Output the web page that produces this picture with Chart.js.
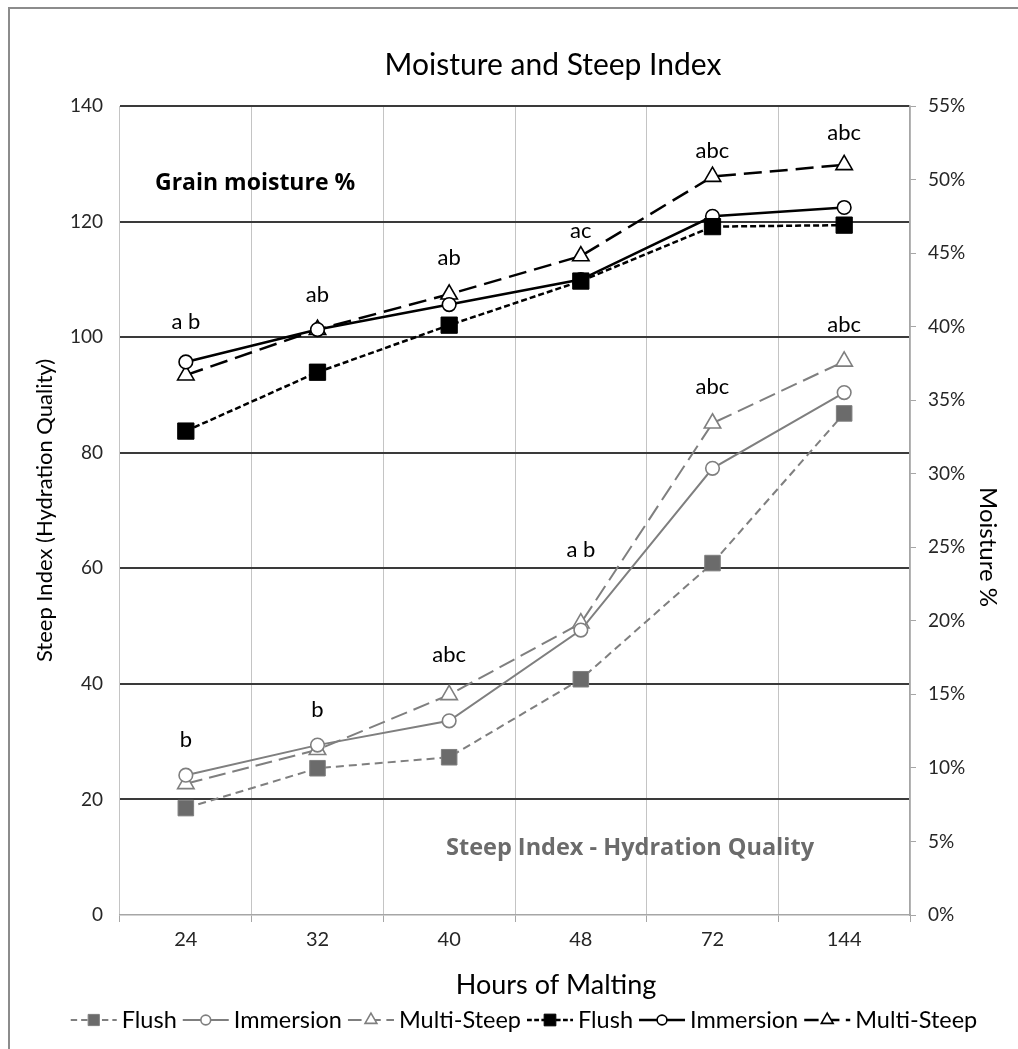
<!DOCTYPE html>
<html><head><meta charset="utf-8">
<script src="https://cdn.jsdelivr.net/npm/chart.js@4.4.0/dist/chart.umd.min.js"></script>
<style>html,body{margin:0;padding:0;background:#fff;}#wrap{width:1018px;height:1049px;}</style>
</head><body><div id="wrap"><canvas id="c" width="1018" height="1049"></canvas></div>
<script>
// ---------- data ----------
const hours = ['24', '32', '40', '48', '72', '144'];
const steepFlush     = [18.5, 25.4, 27.3, 40.8, 60.9, 86.8];
const steepImmersion = [24.2, 29.4, 33.6, 49.3, 77.3, 90.4];
const steepMulti     = [22.7, 28.6, 38.1, 50.5, 85.1, 95.8];
const moistFlush     = [32.9, 36.9, 40.1, 43.1, 46.8, 46.9];
const moistImmersion = [37.6, 39.8, 41.5, 43.2, 47.5, 48.1];
const moistMulti     = [36.7, 39.8, 42.2, 44.8, 50.2, 51.0];
const steepLetters = ['b', 'b', 'abc', 'a b', 'abc', 'abc'];
const moistLetters = ['a b', 'ab', 'ab', 'ac', 'abc', 'abc'];
const seriesNames = ['Flush', 'Immersion', 'Multi-Steep'];
const steepAxisMax = 140, steepAxisStep = 20;
const moistAxisMax = 55, moistAxisStep = 5;
const chartTitle = 'Moisture and Steep Index';
const xTitle = 'Hours of Malting';
const yTitle = 'Steep Index (Hydration Quality)';
const y2Title = 'Moisture %';

// ---------- styles ----------
const GRAY = '#7f7f7f', GRAYFILL = '#6b6b6b';
const FONT = 'Lato, "Open Sans", sans-serif';
const BOLD = '"Open Sans", Lato, sans-serif';

function ds(label, data, axis, color, fill, dash, style, radius, width) {
  return {
    label, data, yAxisID: axis,
    borderColor: color, borderWidth: width, borderDash: dash,
    pointStyle: style, pointRadius: radius, pointHoverRadius: radius,
    pointBackgroundColor: fill, pointBorderColor: color,
    pointBorderWidth: style === 'rect' ? 1 : 1.6,
    fill: false, tension: 0
  };
}

const datasets = [
  ds(seriesNames[0], steepFlush, 'y', GRAY, GRAYFILL, [8, 5], 'rect', 11, 2),
  ds(seriesNames[1], steepImmersion, 'y', GRAY, '#fff', [], 'circle', 6.8, 2),
  ds(seriesNames[2], steepMulti, 'y', GRAY, '#fff', [17, 7], 'triangle', 9.5, 2),
  ds(seriesNames[0], moistFlush, 'y2', '#000', '#000', [6, 3], 'rect', 11.5, 2.5),
  ds(seriesNames[1], moistImmersion, 'y2', '#000', '#fff', [], 'circle', 6.8, 2.5),
  ds(seriesNames[2], moistMulti, 'y2', '#000', '#fff', [18, 8], 'triangle', 9.5, 2.5)
];

const extras = {
  id: 'extras',
  afterDatasetsDraw(chart) {
    const ctx = chart.ctx, ca = chart.chartArea;
    const xs = chart.scales.x;
    ctx.save();
    // titles
    ctx.fillStyle = '#000';
    ctx.textAlign = 'center';
    ctx.textBaseline = 'middle';
    ctx.font = '30px ' + FONT;
    ctx.fillText(chartTitle, 553, 65);
    ctx.font = '27px ' + FONT;
    ctx.fillText(xTitle, 556, 985);
    ctx.save();
    ctx.translate(988, 547);
    ctx.rotate(Math.PI / 2);
    ctx.font = '24px ' + FONT;
    ctx.fillText(y2Title, 0, 0);
    ctx.restore();

    // significance letters
    const groups = [
      {letters: moistLetters, sets: [3, 4, 5], offs: [-40, -35, -36, -25, -26, -32]},
      {letters: steepLetters, sets: [0, 1, 2], offs: [-35, -35, -40, -73, -36, -37]}
    ];
    ctx.font = '22px ' + FONT;
    groups.forEach(g => {
      g.letters.forEach((t, i) => {
        let top = Infinity;
        g.sets.forEach(k => {
          const p = chart.getDatasetMeta(k).data[i];
          top = Math.min(top, p.y);
        });
        ctx.fillText(t, xs.getPixelForValue(i), top + g.offs[i]);
      });
    });
    // in-chart labels
    ctx.font = 'bold 23px ' + BOLD;
    ctx.textAlign = 'left';
    ctx.fillText('Grain moisture %', ca.left + 35, ca.top + 77);
    ctx.textAlign = 'center';
    ctx.fillStyle = '#6b6b6b';
    ctx.font = 'bold 23.5px ' + BOLD;
    ctx.fillText('Steep Index - Hydration Quality', ca.left + 510, ca.bottom - 67);

    // legend
    const ly = 1020, lineLen = 46, g1 = 5, g2 = 6;
    ctx.font = '23.5px ' + FONT;
    const items = chart.data.datasets.map(d => ({d, w: ctx.measureText(d.label).width}));
    let total = 0;
    items.forEach(it => total += lineLen + g1 + it.w + g2);
    total -= g2;
    let x = 524 - total / 2;
    items.forEach(it => {
      const d = it.d;
      ctx.save();
      ctx.strokeStyle = d.borderColor;
      ctx.lineWidth = d.borderWidth;
      ctx.setLineDash(d.borderDash.map(v => v * 0.8));
      ctx.beginPath();
      ctx.moveTo(x, ly); ctx.lineTo(x + lineLen, ly);
      ctx.stroke();
      ctx.setLineDash([]);
      ctx.fillStyle = d.pointBackgroundColor;
      ctx.strokeStyle = d.pointBorderColor;
      ctx.lineWidth = d.pointBorderWidth;
      Chart.helpers.drawPoint(ctx, {pointStyle: d.pointStyle, radius: d.pointRadius * 0.72, borderWidth: d.pointBorderWidth, rotation: 0}, x + lineLen / 2, ly);
      ctx.restore();
      ctx.fillStyle = '#000';
      ctx.textAlign = 'left';
      ctx.textBaseline = 'middle';
      ctx.fillText(d.label, x + lineLen + g1, ly);
      x += lineLen + g1 + it.w + g2;
    });
    ctx.restore();
  },
  afterDraw(chart) {
    const ctx = chart.ctx;
    ctx.save();
    ctx.strokeStyle = '#8c8c8c';
    ctx.lineWidth = 2;
    ctx.strokeRect(9, 8, 1100, 1100);
    ctx.restore();
  }
};

new Chart(document.getElementById('c'), {
  type: 'line',
  data: {labels: hours, datasets},
  plugins: [extras],
  options: {
    responsive: false, animation: false, devicePixelRatio: 1,
    layout: {padding: {left: 9, right: 0, top: 106, bottom: 40}},
    plugins: {legend: {display: false}, tooltip: {enabled: false}, title: {display: false}},
    scales: {
      x: {
        type: 'category', offset: true,
        afterFit: s => { s.height = 94; },
        grid: {offset: true, color: '#c4c4c4', lineWidth: 1, tickLength: 7, tickColor: '#a6a6a6', drawTicks: true},
        border: {color: '#a6a6a6', width: 1.5},
        ticks: {font: {family: FONT, size: 20}, color: '#262626', padding: 6, maxRotation: 0},
        title: {display: false}
      },
      y: {
        position: 'left', min: 0, max: steepAxisMax,
        afterFit: s => { s.width = 111; },
        ticks: {stepSize: steepAxisStep, font: {family: FONT, size: 19}, color: '#262626', padding: 17},
        grid: {drawTicks: false, lineWidth: 2, color: c => (c.tick && c.tick.value === 0) ? 'rgba(0,0,0,0)' : '#3a3a3a'},
        border: {display: false},
        title: {display: true, text: yTitle, font: {family: FONT, size: 22}, color: '#000', padding: {top: 23, bottom: 0}}
      },
      y2: {
        position: 'right', min: 0, max: moistAxisMax,
        afterFit: s => { s.width = 108; },
        ticks: {stepSize: moistAxisStep, font: {family: FONT, size: 19}, color: '#262626', padding: 12, callback: v => v + '%'},
        grid: {drawOnChartArea: false, drawTicks: true, tickLength: 6, color: '#a6a6a6'},
        border: {display: true, color: '#a6a6a6', width: 1.5},
        title: {display: false}
      }
    }
  }
});
</script>
</body></html>
